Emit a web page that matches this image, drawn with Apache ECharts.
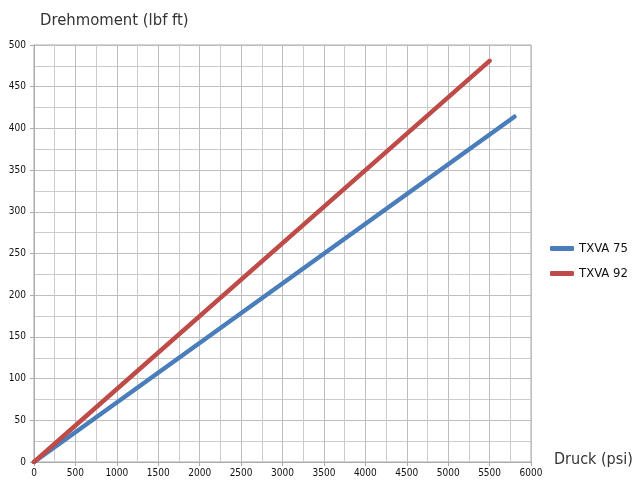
<!DOCTYPE html>
<html><head><meta charset="utf-8">
<script src="https://cdn.jsdelivr.net/npm/echarts@6/dist/echarts.min.js"></script>
<style>html,body{margin:0;padding:0;background:#fff}#c{width:634px;height:489px}</style>
</head><body><div id="c"></div>
<script>
const seriesNames = ['TXVA 75', 'TXVA 92'];
const txva75 = [[0, 0], [5800, 414]];
const txva92 = [[0, 0], [5500, 481]];
const colors = ['#4a7ebb', '#be4b48'];
const font = '"Liberation Sans Narrow", "DejaVu Sans Condensed", sans-serif';
const chart = echarts.init(document.getElementById('c'));
chart.setOption({
  animation: false,
  title: [
    {text: 'Drehmoment (lbf ft)', left: 35, top: 7, textStyle: {fontFamily: font, fontSize: 16.5, fontWeight: 'normal', color: '#333'}},
    {text: 'Druck (psi)', left: 549, top: 447, textStyle: {fontFamily: font, fontSize: 16, fontWeight: 'normal', color: '#333'}}
  ],
  legend: {
    orient: 'vertical', left: 545, top: 237, itemWidth: 24, itemHeight: 5, itemGap: 12,
    icon: 'roundRect',
    textStyle: {fontFamily: font, fontSize: 13, color: '#111'},
    data: seriesNames
  },
  grid: {left: 34, right: 103, top: 45, bottom: 27, show: true, borderColor: '#aaa', borderWidth: 1},
  xAxis: {
    type: 'value', min: 0, max: 6000, interval: 500,
    axisLine: {show: true, lineStyle: {color: '#aaa'}},
    axisTick: {show: true, length: 4, lineStyle: {color: '#aaa'}},
    axisLabel: {fontFamily: font, fontSize: 10, color: '#111', margin: 6, formatter: v => String(v)},
    splitLine: {show: true, lineStyle: {color: '#bdbdbd', width: 1}},
    minorTick: {show: false, splitNumber: 2},
    minorSplitLine: {show: true, lineStyle: {color: '#cccccc', width: 1}}
  },
  yAxis: {
    type: 'value', min: 0, max: 500, interval: 50,
    axisLine: {show: true, lineStyle: {color: '#aaa'}},
    axisTick: {show: true, length: 4, lineStyle: {color: '#aaa'}},
    axisLabel: {fontFamily: font, fontSize: 10, color: '#111', margin: 8, formatter: v => String(v)},
    splitLine: {show: true, lineStyle: {color: '#bdbdbd', width: 1}},
    minorTick: {show: false, splitNumber: 2},
    minorSplitLine: {show: true, lineStyle: {color: '#cccccc', width: 1}}
  },
  series: [
    {name: seriesNames[0], type: 'line', data: txva75, showSymbol: false, symbol: 'none', color: colors[0], lineStyle: {width: 4.5, color: colors[0], cap: 'round'}},
    {name: seriesNames[1], type: 'line', data: txva92, showSymbol: false, symbol: 'none', color: colors[1], lineStyle: {width: 4.5, color: colors[1], cap: 'round'}}
  ]
});
</script></body></html>
